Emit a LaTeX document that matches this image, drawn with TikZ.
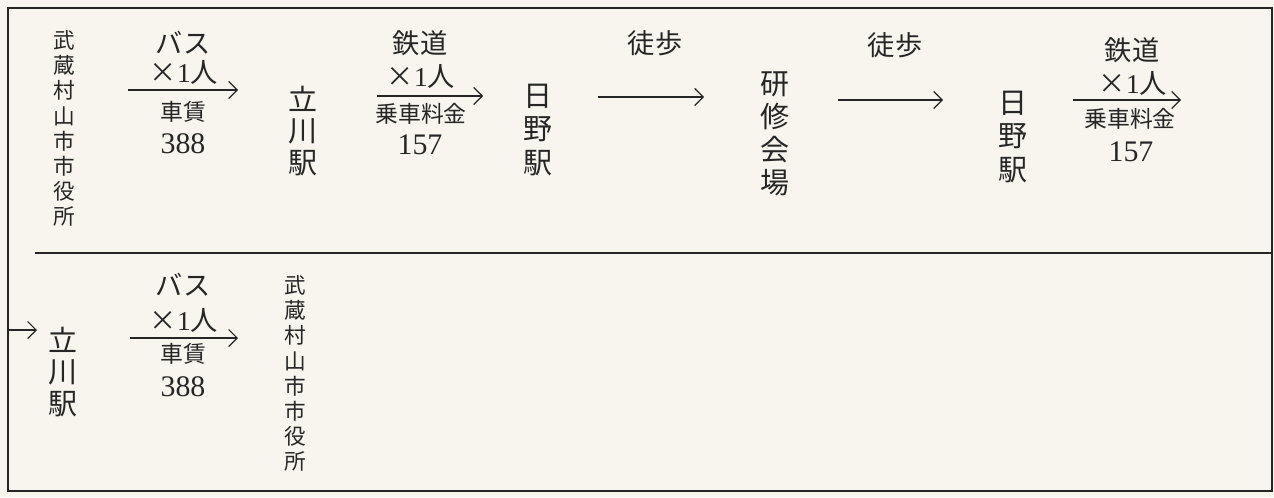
\documentclass[tikz,border=0pt]{standalone}
\usepackage{fontspec}
\setmainfont{Liberation Serif}
\newfontfamily\jp{Noto Sans CJK JP}
\usetikzlibrary{arrows.meta}
\definecolor{paper}{RGB}{247,245,238}
\definecolor{ink}{RGB}{38,38,38}
\tikzset{
  stationV/.style = {align=center, inner sep=0pt, text=ink,
    font=\jp\fontsize{16.5}{17.8}\selectfont},
  hallV/.style = {stationV, font=\jp\fontsize{16.5}{18.8}\selectfont},
  cityV/.style = {stationV, font=\jp\fontsize{12.3}{14.3}\selectfont},
  modeLbl/.style = {inner sep=0pt, text=ink, font=\jp\fontsize{15.5}{17}\selectfont},
  fareLbl/.style = {modeLbl, font=\jp\fontsize{13}{15}\selectfont},
  costLbl/.style = {inner sep=0pt, text=ink, font=\fontsize{17}{18}\selectfont},
  tripArrow/.style = {->, draw=ink, line width=0.7pt}
}

\begin{document}
\begin{tikzpicture}[x=0.02cm, y=-0.02cm,
  >={Straight Barb[length=1.7mm, width=3.4mm]}]
\useasboundingbox[fill=paper] (0,0) rectangle (1274,497);
% frame and row divider
\draw[ink, line width=0.8pt] (8,8) rectangle (1272,491);
\coordinate (divL) at (35,253);
\coordinate (divR) at (1272,253);
\draw[ink, line width=0.8pt] (divL) -- (divR);

% first row
\node[cityV] (city1) at (64,128.5) {武\\蔵\\村\\山\\市\\市\\役\\所};
\coordinate (bus1s) at (128,90);
\coordinate (bus1e) at (238,90);
\draw[tripArrow] (bus1s) -- (bus1e);
\node[modeLbl] (bus1m) at (183,43) {バス};
\node[modeLbl] (bus1p) at (184,72) {×{\rmfamily 1}人};
\node[fareLbl] (bus1f) at (183,112) {車賃};
\node[costLbl] (bus1c) at (183,144) {388};

\node[stationV] (tachi1) at (303,131) {立\\川\\駅};

\coordinate (rail1s) at (377,96);
\coordinate (rail1e) at (483,96);
\draw[tripArrow] (rail1s) -- (rail1e);
\node[modeLbl] (rail1m) at (420,43) {鉄道};
\node[modeLbl] (rail1p) at (421,76) {×{\rmfamily 1}人};
\node[fareLbl] (rail1f) at (421,114) {乗車料金};
\node[costLbl] (rail1c) at (420,145) {157};

\node[hallV] (hino1) at (538,130) {日\\野\\駅};

\coordinate (walk1s) at (598,97);
\coordinate (walk1e) at (704,97);
\draw[tripArrow] (walk1s) -- (walk1e);
\node[modeLbl] (walk1m) at (655,43) {徒歩};

\node[hallV] (kenshu) at (775,134) {研\\修\\会\\場};

\coordinate (walk2s) at (838,100);
\coordinate (walk2e) at (943,100);
\draw[tripArrow] (walk2s) -- (walk2e);
\node[modeLbl] (walk2m) at (895,45) {徒歩};

\node[hallV] (hino2) at (1013,137) {日\\野\\駅};

\coordinate (rail2s) at (1073,100);
\coordinate (rail2e) at (1181,100);
\draw[tripArrow] (rail2s) -- (rail2e);
\node[modeLbl] (rail2m) at (1132,50) {鉄道};
\node[modeLbl] (rail2p) at (1133,83) {×{\rmfamily 1}人};
\node[fareLbl] (rail2f) at (1130,119) {乗車料金};
\node[costLbl] (rail2c) at (1131,152) {157};

% second row
\coordinate (wrapIn) at (8,330);
\coordinate (wrapEnd) at (37,330);
\draw[tripArrow] (wrapIn) -- (wrapEnd);
\node[stationV] (tachi2) at (63,372) {立\\川\\駅};

\coordinate (bus2s) at (130,338);
\coordinate (bus2e) at (238,338);
\draw[tripArrow] (bus2s) -- (bus2e);
\node[modeLbl] (bus2m) at (183,285) {バス};
\node[modeLbl] (bus2p) at (184,320) {×{\rmfamily 1}人};
\node[fareLbl] (bus2f) at (183,354) {車賃};
\node[costLbl] (bus2c) at (183,387) {388};

\node[cityV] (city2) at (295,373.5) {武\\蔵\\村\\山\\市\\市\\役\\所};
\end{tikzpicture}
\end{document}
